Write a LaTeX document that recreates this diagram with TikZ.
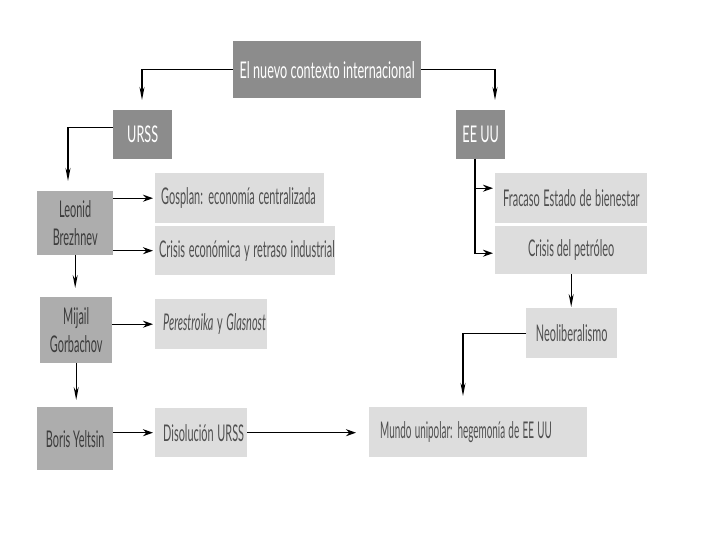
\documentclass[tikz,border=0pt]{standalone}
\usepackage{fontspec}
\setmainfont{Lato}
\usetikzlibrary{arrows.meta}
\newcommand\cnd[1]{\scalebox{0.475}[1]{#1}}
\newcommand\cndt[1]{\scalebox{0.55}[1]{#1}}
\definecolor{dk}{HTML}{8C8C8C}
\definecolor{md}{HTML}{ADADAD}
\definecolor{lt}{HTML}{DDDDDD}
\definecolor{txm}{HTML}{3C3C3C}
\definecolor{txl}{HTML}{505050}
\begin{document}
\begin{tikzpicture}[x=1pt,y=-1pt,
  base/.style={rectangle, inner sep=0pt, anchor=north west, font=\fontsize{23}{28}\selectfont},
  dkbox/.style={base, fill=dk, text=white},
  mdbox/.style={base, fill=md, text=txm, align=center},
  ltbox/.style={base, fill=lt, text=txl},
  arrh/.style={draw=black, line width=1.3pt, -{Stealth[length=10pt,width=7pt]}},
  arrv/.style={draw=black, line width=1.1pt, -{Stealth[length=13pt,width=5pt]}}]
\useasboundingbox (0,0) rectangle (720,540);
\fill[white] (0,0) rectangle (720,540);
% dark boxes
\node[dkbox, minimum width=188pt, minimum height=57pt] (title) at (233,41) {\cndt{El nuevo contexto internacional}};
\node[dkbox, minimum width=59pt, minimum height=49pt] (urss) at (113,110) {\cndt{URSS}};
\node[dkbox, minimum width=49pt, minimum height=49pt] (eeuu) at (456,110) {\cndt{EE UU}};
% medium boxes
\node[mdbox, minimum width=76pt, minimum height=64pt] (leonid) at (37,191) {\cnd{Leonid}\\\cnd{Brezhnev}};
\node[mdbox, minimum width=72pt, minimum height=66pt] (mijail) at (40,297) {\cnd{Mijail}\\\cnd{Gorbachov}};
\node[mdbox, minimum width=76pt, minimum height=63pt] (boris) at (37,407) {\cnd{Boris Yeltsin}};
% light boxes
\node[ltbox, minimum height=50pt, inner xsep=6pt, text width=157pt, align=left] (gosplan) at (155,173) {\cnd{Gosplan: economía centralizada}};
\node[ltbox, minimum height=49pt, inner xsep=4pt, text width=172pt, align=left] (crisis) at (155,226) {\cnd{Crisis económica y retraso industrial}};
\node[ltbox, minimum height=50pt, inner xsep=8pt, text width=96pt, align=left] (peres) at (155,299) {\cnd{\textit{Perestroika} y \textit{Glasnost}}};
\node[ltbox, minimum height=49pt, inner xsep=8pt, text width=76pt, align=left] (disol) at (155,408) {\cnd{Disolución URSS}};
\node[ltbox, minimum height=50pt, inner xsep=8pt, text width=136pt, align=left] (fracaso) at (495,173) {\cnd{Fracaso Estado de bienestar}};
\node[ltbox, minimum width=152pt, minimum height=48pt, align=center] (petro) at (495,226) {\cnd{Crisis del petróleo}};
\node[ltbox, minimum width=91pt, minimum height=50pt, align=center] (neolib) at (526,308) {\cnd{Neoliberalismo}};
\node[ltbox, minimum height=50pt, inner xsep=11pt, text width=196pt, align=left] (mundo) at (369,407) {\scalebox{0.43}[1]{Mundo unipolar: hegemonía de EE UU}};
% helper coordinates
\coordinate (a1) at (142,100);
\coordinate (a2) at (495,100);
\coordinate (a3) at (68,181);
\coordinate (eb) at (475,159);
\coordinate (m1) at (463,396);
% connectors
\draw[arrv] (title.west) -| (a1);
\draw[arrv] (title.east) -| (a2);
\draw[arrv] ([yshift=7pt]urss.west) -| (a3);
\draw[arrh, shorten >=2pt] (leonid.east |- gosplan.west) -- (gosplan.west);
\draw[arrh, shorten >=2pt] (leonid.east |- crisis.west) -- (crisis.west);
\draw[arrv, shorten >=9pt] (leonid.south) -- (leonid.south |- mijail.north);
\draw[arrh, shorten >=2pt] (mijail.east |- peres.west) -- (peres.west);
\draw[arrv, shorten >=7pt] (mijail.south) -- (mijail.south |- boris.north);
\draw[arrh, shorten >=2pt] (boris.east |- disol.west) -- (disol.west);
\draw[arrh, shorten >=13pt] (disol.east) -- (disol.east -| mundo.west);
\draw[arrh, shorten >=2pt] (eb) |- ([yshift=10pt]fracaso.west);
\draw[arrh, shorten >=2pt] (eb) |- ([yshift=-3pt]petro.west);
\draw[arrv, shorten >=1pt] (petro.south) -- (petro.south |- neolib.north);
\draw[arrv] (neolib.west) -| (m1);
\end{tikzpicture}
\end{document}
